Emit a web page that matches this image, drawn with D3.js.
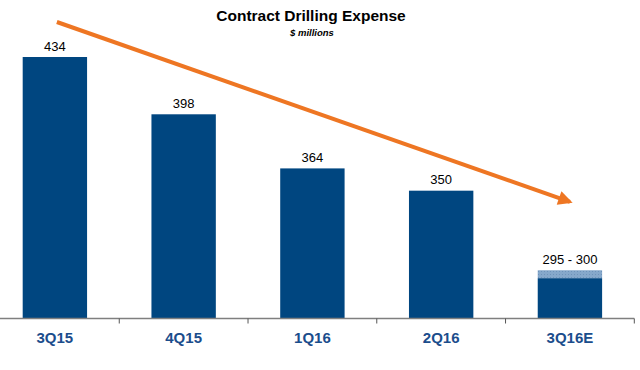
<!DOCTYPE html>
<html><head><meta charset="utf-8">
<script src="https://cdn.jsdelivr.net/npm/d3@7"></script>
<style>html,body{margin:0;padding:0;background:#fff;}svg{display:block;font-family:"Liberation Sans",Arial,sans-serif;}</style>
</head><body>
<script>
const categories = ["3Q15","4Q15","1Q16","2Q16","3Q16E"];
const values = [434, 398, 364, 350, 295];
const rangeHigh = [null, null, null, null, 300];
const valueLabels = ["434","398","364","350","295 - 300"];
const title = "Contract Drilling Expense";
const subtitle = "$ millions";
const trendFrom = {cat: "3Q15", value: 456};
const trendTo = {cat: "3Q16E", value: 343};

const W = 640, H = 370;
const svg = d3.select("body").append("svg").attr("width", W).attr("height", H);

const x = d3.scaleBand().domain(categories).range([-9.5, 634.3]).padding(0);
const y = d3.scaleLinear().domain([270, 434]).range([318, 57]);
const barW = x.bandwidth() * 0.5;
const cx = c => x(c) + x.bandwidth() / 2;

const defs = svg.append("defs");
const pat = defs.append("pattern").attr("id","dots").attr("patternUnits","userSpaceOnUse")
  .attr("width",3).attr("height",3);
pat.append("rect").attr("width",3).attr("height",3).attr("fill","#86A8CB");
pat.append("rect").attr("x",1).attr("y",1).attr("width",1).attr("height",1).attr("fill","#6E93BA");
defs.append("marker").attr("id","ah").attr("viewBox","0 0 10 10").attr("refX",8).attr("refY",5)
  .attr("markerWidth",4).attr("markerHeight",3.6).attr("markerUnits","strokeWidth").attr("orient","auto")
  .append("path").attr("d","M0,0 L10,5 L0,10 Z").attr("fill","#EE7623");

// title
svg.append("text").attr("x",311).attr("y",21).attr("text-anchor","middle")
  .attr("font-size",15.5).attr("font-weight","bold").attr("fill","#000").text(title);
svg.append("text").attr("x",312).attr("y",36).attr("text-anchor","middle")
  .attr("font-size",9.5).attr("font-weight","bold").attr("font-style","italic").attr("fill","#000").text(subtitle);

// range (light) part
svg.selectAll("rect.hi").data(categories.filter((c,i)=>rangeHigh[i]!=null)).join("rect")
  .attr("class","hi")
  .attr("x", c => cx(c) - barW/2).attr("width", barW)
  .attr("y", c => y(rangeHigh[categories.indexOf(c)]))
  .attr("height", c => y(values[categories.indexOf(c)]) - y(rangeHigh[categories.indexOf(c)]))
  .attr("fill","url(#dots)");

// bars
svg.selectAll("rect.bar").data(categories).join("rect").attr("class","bar")
  .attr("x", c => cx(c) - barW/2).attr("width", barW)
  .attr("y", (c,i) => y(values[i])).attr("height", (c,i) => y.range()[0] - y(values[i]))
  .attr("fill","#004680");

// value labels
svg.selectAll("text.val").data(categories).join("text").attr("class","val")
  .attr("x", c => cx(c)).attr("y", (c,i) => y(rangeHigh[i] != null ? rangeHigh[i] : values[i]) - 6.5)
  .attr("text-anchor","middle").attr("font-size",13).attr("fill","#000")
  .text((c,i) => valueLabels[i]);

// axis
const base = y.range()[0] + 0.5;
svg.append("line").attr("x1",0).attr("x2",x.range()[1]).attr("y1",base).attr("y2",base)
  .attr("stroke","#7f7f7f").attr("stroke-width",1.5);
svg.selectAll("line.tick").data(categories.slice(1).concat(["__end"])).join("line").attr("class","tick")
  .attr("x1", c => c === "__end" ? x.range()[1] : x(c)).attr("x2", c => c === "__end" ? x.range()[1] : x(c))
  .attr("y1", base).attr("y2", base + 5).attr("stroke","#555").attr("stroke-width",1);

svg.selectAll("text.cat").data(categories).join("text").attr("class","cat")
  .attr("x", c => cx(c)).attr("y", 343).attr("text-anchor","middle")
  .attr("font-size",15).attr("font-weight","bold").attr("fill","#1B4D8C").text(c => c);

// trend arrow
svg.append("line")
  .attr("x1", cx(trendFrom.cat) + 2).attr("y1", y(trendFrom.value))
  .attr("x2", cx(trendTo.cat)).attr("y2", y(trendTo.value))
  .attr("stroke","#EE7623").attr("stroke-width",4).attr("marker-end","url(#ah)");
</script>
</body></html>
